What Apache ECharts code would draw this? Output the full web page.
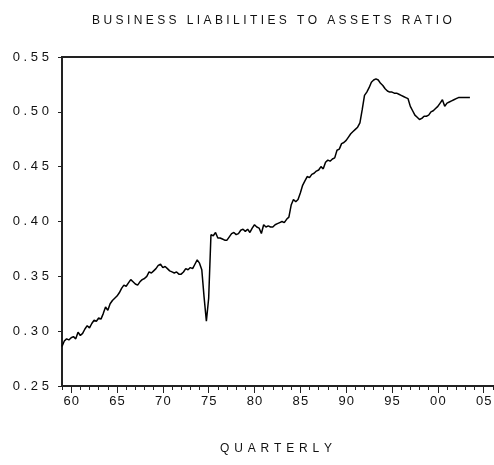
<!DOCTYPE html>
<html>
<head>
<meta charset="utf-8">
<script src="https://cdn.jsdelivr.net/npm/echarts@6/dist/echarts.min.js"></script>
<style>
  html, body { margin: 0; padding: 0; background: #fff; }
  #chart { width: 494px; height: 465px; }
</style>
</head>
<body>
<div id="chart"></div>
<script>
// quarterly series, first observation 1959Q1
const startYear = 1959;
const ratio = [
  0.286, 0.291, 0.293, 0.292,   // 1959
  0.294, 0.295, 0.293, 0.299,   // 1960
  0.296, 0.298, 0.302, 0.305,   // 1961
  0.303, 0.307, 0.310, 0.309,   // 1962
  0.312, 0.311, 0.316, 0.322,   // 1963
  0.319, 0.325, 0.328, 0.330,   // 1964
  0.332, 0.335, 0.339, 0.342,   // 1965
  0.341, 0.344, 0.347, 0.345,   // 1966
  0.343, 0.342, 0.345, 0.347,   // 1967
  0.348, 0.350, 0.354, 0.353,   // 1968
  0.355, 0.357, 0.360, 0.361,   // 1969
  0.358, 0.359, 0.357, 0.355,   // 1970
  0.354, 0.353, 0.354, 0.352,   // 1971
  0.352, 0.354, 0.357, 0.356,   // 1972
  0.358, 0.357, 0.361, 0.365,   // 1973
  0.362, 0.356, 0.331, 0.309,   // 1974
  0.330, 0.388, 0.387, 0.390,   // 1975
  0.385, 0.385, 0.384, 0.383,   // 1976
  0.383, 0.386, 0.389, 0.390,   // 1977
  0.388, 0.389, 0.392, 0.393,   // 1978
  0.391, 0.393, 0.390, 0.394,   // 1979
  0.397, 0.395, 0.394, 0.389,   // 1980
  0.397, 0.395, 0.396, 0.395,   // 1981
  0.395, 0.397, 0.398, 0.399,   // 1982
  0.400, 0.399, 0.402, 0.404,   // 1983
  0.415, 0.420, 0.418, 0.420,   // 1984
  0.426, 0.433, 0.437, 0.441,   // 1985
  0.440, 0.443, 0.444, 0.446,   // 1986
  0.447, 0.450, 0.448, 0.454,   // 1987
  0.456, 0.455, 0.457, 0.458,   // 1988
  0.465, 0.466, 0.471, 0.472,   // 1989
  0.474, 0.477, 0.480, 0.482,   // 1990
  0.484, 0.486, 0.490, 0.502,   // 1991
  0.515, 0.518, 0.522, 0.527,   // 1992
  0.529, 0.530, 0.529, 0.526,   // 1993
  0.524, 0.521, 0.519, 0.518,   // 1994
  0.518, 0.517, 0.517, 0.516,   // 1995
  0.515, 0.514, 0.513, 0.512,   // 1996
  0.505, 0.501, 0.497, 0.495,   // 1997
  0.493, 0.494, 0.496, 0.496,   // 1998
  0.497, 0.500, 0.501, 0.503,   // 1999
  0.505, 0.508, 0.511, 0.505,   // 2000
  0.508, 0.509, 0.510, 0.511,   // 2001
  0.512, 0.513, 0.513, 0.513,   // 2002
  0.513, 0.513, 0.513           // 2003
];
const majorTicks = [1960, 1965, 1970, 1975, 1980, 1985, 1990, 1995, 2000, 2005];
const minorTicks = [];
for (let y = 1959; y <= 2006; y++) minorTicks.push(y);
const yTicks = [0.25, 0.30, 0.35, 0.40, 0.45, 0.50, 0.55];

const titleText = 'BUSINESS LIABILITIES TO ASSETS RATIO';
const xTitle = 'QUARTERLY';

// wide bitmap-like lettering
const spaced = (s, gap) => s.split('').join(gap);

const points = ratio.map((v, i) => [startYear + i / 4, v]);

const axisColor = '#222';
const font = 'Liberation Sans, Arial, sans-serif';

const chart = echarts.init(document.getElementById('chart'), null, { renderer: 'canvas' });
chart.setOption({
  animation: false,
  backgroundColor: '#fff',
  title: [
    {
      text: spaced(titleText, '\u2009\u200A'),
      left: 267, top: 10, textAlign: 'center',
      textStyle: { fontFamily: font, fontSize: 12, fontWeight: 'normal', color: '#111' }
    },
    {
      text: spaced(xTitle, '\u2009\u2009'),
      left: 271, top: 438, textAlign: 'center',
      textStyle: { fontFamily: font, fontSize: 12, fontWeight: 'normal', color: '#111' }
    }
  ],
  grid: {
    left: 62, top: 57, height: 329, width: 440,
    outerBoundsMode: 'none',
    show: true, borderColor: axisColor, borderWidth: 2, backgroundColor: '#fff'
  },
  xAxis: [
    {
      type: 'value', min: 1959, max: 2007, position: 'bottom',
      splitLine: { show: false },
      axisLine: { show: true, onZero: false, lineStyle: { color: axisColor, width: 2 } },
      axisTick: { show: true, customValues: majorTicks, length: 7, lineStyle: { color: axisColor, width: 1 } },
      axisLabel: {
        customValues: majorTicks, margin: 9,
        fontFamily: font, fontSize: 13, color: '#111',
        formatter: (v) => spaced(String(v).slice(2), '\u200A')
      }
    },
    {
      type: 'value', min: 1959, max: 2007, position: 'bottom',
      splitLine: { show: false },
      axisLine: { show: false, onZero: false },
      axisTick: { show: true, customValues: minorTicks, length: 4, lineStyle: { color: axisColor, width: 1 } },
      axisLabel: { show: false }
    }
  ],
  yAxis: {
    type: 'value', min: 0.25, max: 0.55, interval: 0.05,
    splitLine: { show: false },
    axisLine: { show: true, lineStyle: { color: axisColor, width: 2 } },
    axisTick: { show: true, length: 4, lineStyle: { color: axisColor, width: 1 } },
    axisLabel: {
      margin: 13, fontFamily: font, fontSize: 13, color: '#111',
      customValues: yTicks,
      formatter: (v) => spaced(v.toFixed(2), '\u2009\u200A')
    }
  },
  series: [{
    type: 'line',
    data: points,
    xAxisIndex: 0,
    showSymbol: false,
    symbol: 'none',
    lineStyle: { color: '#000', width: 1.5 },
    silent: true
  }]
});
</script>
</body>
</html>
